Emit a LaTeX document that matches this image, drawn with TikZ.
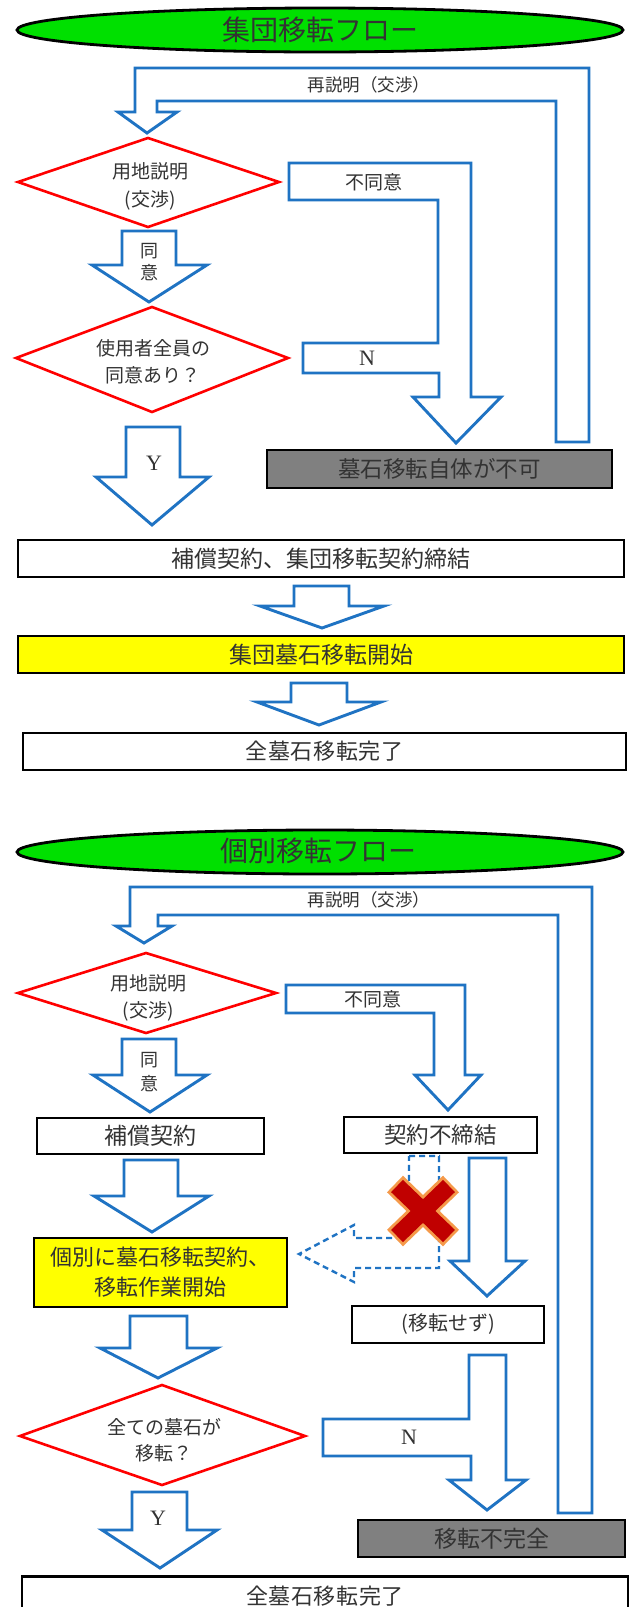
\documentclass[tikz,border=0pt]{standalone}
\usepackage{fontspec}
\setmainfont{Liberation Serif}
\newfontfamily\jp{Noto Sans CJK JP}
\newfontfamily\lser{Liberation Serif}
\newcommand\jf[1]{\jp\fontsize{#1}{#1}\selectfont}
\newcommand\jfs[2]{\jp\fontsize{#1}{#2}\selectfont}
\definecolor{bl}{HTML}{1F73C3}
\definecolor{tx}{HTML}{333333}
\definecolor{ttl}{HTML}{00E000}
\definecolor{yel}{HTML}{FFFF00}
\definecolor{gry}{HTML}{808080}
\definecolor{xr}{HTML}{C00000}
\definecolor{xo}{HTML}{F59A4A}
\begin{document}
\begin{tikzpicture}[x=1pt,y=-1pt,
  blk/.style={draw=bl,line width=2.9pt,fill=white,line join=miter},
  dashblk/.style={draw=bl,line width=2.4pt,dash pattern=on 6pt off 4pt},
  dia/.style={draw=red,line width=2.6pt,fill=white},
  box/.style={draw=black,line width=2.9pt,inner sep=0pt,text=tx},
  lbl/.style={text=tx,inner sep=0pt,align=center},
  ttlshape/.style={draw=black,line width=2.8pt,fill=ttl}]
\useasboundingbox (0,0) rectangle (629,1607);
\fill[white] (0,0) rectangle (629,1607);

% ================= top: group relocation =================
\draw[ttlshape] (320,30) ellipse [x radius=303, y radius=22];
\node[lbl,font=\jf{28}] (t1) at (320,30) {集団移転フロー};

\draw[blk] (147,133) -- (118,112) -- (135,112) -- (135,68) -- (589,68) -- (589,442)
  -- (556,442) -- (556,101) -- (157,101) -- (157,112) -- (177,112) -- cycle;
\node[lbl,font=\jf{17.5}] (re1) at (369,85) {再説明（交渉）};

\draw[dia] (18,182) -- (148,138) -- (279,182) -- (148,227) -- cycle;
\node[lbl,font=\jfs{19}{28}] (d1) at (150,186) {用地説明\\(交渉)};

\draw[blk] (289,163) -- (471,163) -- (471,397) -- (501,397) -- (456,443) -- (413,397)
  -- (439,397) -- (439,373) -- (303,373) -- (303,343) -- (438,343) -- (438,200) -- (289,200) -- cycle;
\node[lbl,font=\jf{19}] (nd1) at (374,182) {不同意};
\node[lbl,font=\lser\fontsize{22}{22}\selectfont] (n1) at (367,358) {N};

\draw[blk] (122,231) -- (176,231) -- (176,265) -- (207,265) -- (149,302) -- (92,265) -- (122,265) -- cycle;
\node[lbl,font=\jfs{18}{22}] (a1) at (149,262) {同\\意};

\draw[dia] (16,358) -- (152,307) -- (288,358) -- (152,412) -- cycle;
\node[lbl,font=\jfs{19}{27}] (d2) at (153,362) {使用者全員の\\同意あり？};

\draw[blk] (126,427) -- (180,427) -- (180,477) -- (209,477) -- (152,525) -- (96,477) -- (126,477) -- cycle;
\node[lbl,font=\lser\fontsize{22}{22}\selectfont] (y1) at (154,463) {Y};

\node[box,fill=gry,minimum width=345pt,minimum height=38pt,font=\jf{22.5}] (g1) at (439.5,469) {墓石移転自体が不可};

\node[box,fill=white,minimum width=606pt,minimum height=37pt,font=\jf{23}] (b1) at (321,558.5) {補償契約、集団移転契約締結};

\draw[blk] (294,586) -- (349,586) -- (349,606) -- (384,606) -- (322,628) -- (260,606) -- (294,606) -- cycle;

\node[box,fill=yel,minimum width=606pt,minimum height=37pt,font=\jf{23}] (b2) at (321,654.5) {集団墓石移転開始};

\draw[blk] (291,683) -- (347,683) -- (347,702) -- (381,702) -- (319,725) -- (257,702) -- (291,702) -- cycle;

\node[box,fill=white,minimum width=603pt,minimum height=37pt,font=\jf{22}] (b3) at (324.5,751.5)
  {\hbox to 158pt{全\hfil 墓\hfil 石\hfil 移\hfil 転\hfil 完\hfil 了}};

% ================= bottom: individual relocation =================
\draw[ttlshape] (320,852) ellipse [x radius=303, y radius=22];
\node[lbl,font=\jf{28}] (t2) at (318,851) {個別移転フロー};

\draw[blk] (144,943) -- (116,926) -- (130,926) -- (130,887) -- (592,887) -- (592,1513)
  -- (558,1513) -- (558,915) -- (158,915) -- (158,926) -- (172,926) -- cycle;
\node[lbl,font=\jf{17.5}] (re2) at (369,900) {再説明（交渉）};

\draw[dia] (18,993) -- (146,953) -- (276,993) -- (146,1033) -- cycle;
\node[lbl,font=\jfs{19}{27}] (d3) at (148,998) {用地説明\\(交渉)};

\draw[blk] (286,985) -- (465,985) -- (465,1075) -- (481,1075) -- (448,1110) -- (415,1075)
  -- (434,1075) -- (434,1013) -- (286,1013) -- cycle;
\node[lbl,font=\jf{19}] (nd2) at (373,999) {不同意};

\draw[blk] (122,1039) -- (176,1039) -- (176,1075) -- (207,1075) -- (150,1112) -- (93,1075) -- (122,1075) -- cycle;
\node[lbl,font=\jfs{18}{24}] (a2) at (149,1072) {同\\意};

\node[box,fill=white,minimum width=227pt,minimum height=36pt,font=\jf{23}] (b4) at (150.5,1136) {補償契約};
\node[box,fill=white,minimum width=193pt,minimum height=36pt,font=\jf{22.5}] (b5) at (440.5,1135) {契約不締結};

\draw[blk] (124,1160) -- (178,1160) -- (178,1196) -- (209,1196) -- (152,1232) -- (94,1196) -- (124,1196) -- cycle;

\node[box,fill=yel,minimum width=253pt,minimum height=69pt,align=center,font=\jfs{22}{30}] (b6) at (160.5,1272.5)
  {個別に墓石移転契約、\\移転作業開始};

\draw[blk] (130,1316) -- (187,1316) -- (187,1348) -- (217,1348) -- (158,1378) -- (100,1348) -- (130,1348) -- cycle;

% dashed (blocked) arrow
\draw[dashblk] (409,1156) -- (439,1156) -- (439,1268) -- (354,1268) -- (354,1282) -- (299,1254)
  -- (354,1225) -- (354,1238) -- (409,1238) -- cycle;
% red cross
\draw[draw=xo,line width=23pt] (395,1184) -- (451,1238) (451,1184) -- (395,1238);
\draw[draw=xr,line width=17pt] (397,1186) -- (449,1236) (449,1186) -- (397,1236);

\draw[blk] (469,1158) -- (506,1158) -- (506,1261) -- (525,1261) -- (487,1296) -- (450,1261) -- (469,1261) -- cycle;

\node[box,fill=white,minimum width=192pt,minimum height=37pt,font=\jf{20}] (b7) at (448,1324.5) {(移転せず)};

\draw[blk] (469,1355) -- (506,1355) -- (506,1480) -- (526,1480) -- (487,1510) -- (449,1480)
  -- (471,1480) -- (471,1456) -- (323,1456) -- (323,1419) -- (469,1419) -- cycle;
\node[lbl,font=\lser\fontsize{22}{22}\selectfont] (n2) at (409,1437) {N};

\draw[dia] (20,1436) -- (162,1385) -- (305,1436) -- (162,1485) -- cycle;
\node[lbl,font=\jfs{19}{26}] (d4) at (164,1440) {全ての墓石が\\移転？};

\node[box,fill=gry,minimum width=267pt,minimum height=37pt,font=\jf{23}] (g2) at (491.5,1538.5) {移転不完全};

\draw[blk] (132,1492) -- (187,1492) -- (187,1530) -- (217,1530) -- (160,1568) -- (102,1530) -- (132,1530) -- cycle;
\node[lbl,font=\lser\fontsize{22}{22}\selectfont] (y2) at (158,1518) {Y};

\node[box,fill=white,minimum width=606pt,minimum height=40pt,anchor=north,font=\jf{22}] (b8) at (325,1575)
  {\hbox to 158pt{全\hfil 墓\hfil 石\hfil 移\hfil 転\hfil 完\hfil 了}};
\end{tikzpicture}
\end{document}
